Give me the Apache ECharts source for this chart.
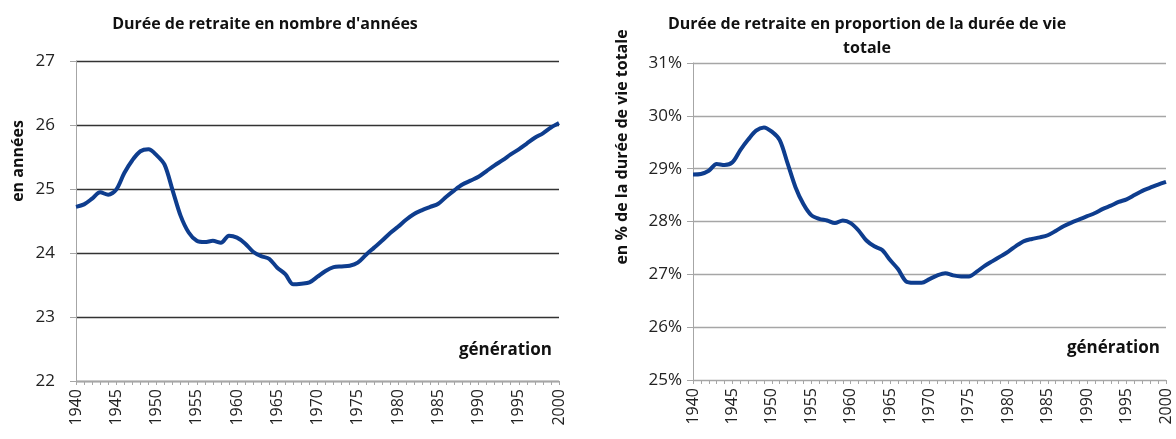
<!DOCTYPE html>
<html>
<head>
<meta charset="utf-8">
<script src="https://cdn.jsdelivr.net/npm/echarts@6/dist/echarts.min.js"></script>
<style>
  html, body { margin: 0; padding: 0; background: #fff; }
  #chart { width: 1176px; height: 439px; }
</style>
</head>
<body>
<div id="chart"></div>
<script>
// générations 1940 -> 2000
var years = [];
for (var y = 1940; y <= 2000; y++) years.push(String(y));

// durée de retraite en nombre d'années
var dureeAnnees = [
  24.72, 24.76, 24.85, 24.95, 24.91, 24.99, 25.25, 25.45, 25.59, 25.62,
  25.53, 25.38, 24.98, 24.58, 24.32, 24.19, 24.17, 24.19, 24.16, 24.27,
  24.24, 24.15, 24.02, 23.95, 23.91, 23.77, 23.67, 23.51, 23.52, 23.54,
  23.63, 23.72, 23.78, 23.79, 23.80, 23.85, 23.97, 24.08, 24.19, 24.31,
  24.41, 24.52, 24.61, 24.67, 24.72, 24.77, 24.88, 24.98, 25.07, 25.13,
  25.19, 25.28, 25.37, 25.45, 25.54, 25.62, 25.71, 25.80, 25.87, 25.96,
  26.03
];

// durée de retraite en % de la durée de vie totale
var dureePct = [
  28.89, 28.90, 28.96, 29.09, 29.07, 29.12, 29.35, 29.55, 29.72, 29.78,
  29.70, 29.54, 29.10, 28.65, 28.33, 28.12, 28.05, 28.02, 27.97, 28.02,
  27.97, 27.83, 27.64, 27.53, 27.46, 27.27, 27.10, 26.87, 26.84, 26.84,
  26.91, 26.98, 27.02, 26.98, 26.96, 26.96, 27.05, 27.16, 27.25, 27.34,
  27.43, 27.54, 27.63, 27.67, 27.70, 27.74, 27.82, 27.91, 27.98, 28.04,
  28.10, 28.16, 28.24, 28.30, 28.37, 28.42, 28.50, 28.58, 28.64, 28.70,
  28.75
];

var font = 'Open Sans';
var chart = echarts.init(document.getElementById('chart'));

function xAxisOpt(idx) {
  return {
    type: 'category',
    gridIndex: idx,
    data: years,
    boundaryGap: false,
    axisLine: { lineStyle: { color: '#a6a6a6', width: 1 } },
    axisTick: { interval: 0, length: 4, lineStyle: { color: '#a6a6a6' } },
    axisLabel: {
      interval: 4, rotate: 90, margin: 8,
      color: '#222', fontFamily: font, fontSize: 16
    },
    splitLine: { show: false }
  };
}

var option = {
  animation: false,
  title: [
    {
      text: "Durée de retraite en nombre d'années",
      left: 260, top: 11, textAlign: 'center',
      textStyle: { fontFamily: font, fontSize: 16, fontWeight: 'bold', color: '#111' }
    },
    {
      text: 'Durée de retraite en proportion de la durée de vie\ntotale',
      left: 862, top: 7, textAlign: 'center',
      textStyle: { fontFamily: font, fontSize: 16, fontWeight: 'bold', color: '#111', lineHeight: 24 }
    }
  ],
  grid: [
    { left: 76, right: 617, top: 61, bottom: 58 },
    { left: 693, right: 10, top: 63, bottom: 59 }
  ],
  xAxis: [xAxisOpt(0), xAxisOpt(1)],
  yAxis: [
    {
      type: 'value', gridIndex: 0, min: 22, max: 27, interval: 1,
      axisLine: { show: true, lineStyle: { color: '#a6a6a6' } },
      axisTick: { show: true, length: 6, lineStyle: { color: '#a6a6a6' } },
      axisLabel: { color: '#222', fontFamily: font, fontSize: 17, margin: 21 },
      splitLine: { lineStyle: { color: '#333', width: 1.3 } }
    },
    {
      type: 'value', gridIndex: 1, min: 25, max: 31, interval: 1,
      axisLine: { show: true, lineStyle: { color: '#a6a6a6' } },
      axisTick: { show: true, length: 6, lineStyle: { color: '#a6a6a6' } },
      axisLabel: { color: '#222', fontFamily: font, fontSize: 17, margin: 11, formatter: '{value}%' },
      splitLine: { lineStyle: { color: '#a6a6a6', width: 1.3 } }
    }
  ],
  graphic: [
    {
      type: 'text', x: 18, y: 161, rotation: Math.PI / 2,
      style: { text: 'en années', fontFamily: font, fontSize: 16, fontWeight: 'bold', fill: '#111', align: 'center', verticalAlign: 'middle' }
    },
    {
      type: 'text', x: 622, y: 147, rotation: Math.PI / 2,
      style: { text: 'en % de la durée de vie totale', fontFamily: font, fontSize: 16, fontWeight: 'bold', fill: '#111', align: 'center', verticalAlign: 'middle' }
    },
    {
      type: 'text', x: 552, y: 350,
      style: { text: 'génération', fontFamily: font, fontSize: 17, fontWeight: 'bold', fill: '#111', align: 'right', verticalAlign: 'middle' }
    },
    {
      type: 'text', x: 1160, y: 348,
      style: { text: 'génération', fontFamily: font, fontSize: 17, fontWeight: 'bold', fill: '#111', align: 'right', verticalAlign: 'middle' }
    }
  ],
  series: [
    {
      name: 'Durée en années', type: 'line', xAxisIndex: 0, yAxisIndex: 0,
      data: dureeAnnees, smooth: 0.3, showSymbol: false,
      lineStyle: { color: '#0e3d8e', width: 4 }
    },
    {
      name: 'Durée en %', type: 'line', xAxisIndex: 1, yAxisIndex: 1,
      data: dureePct, smooth: 0.3, showSymbol: false,
      lineStyle: { color: '#0e3d8e', width: 4 }
    }
  ]
};

chart.setOption(option);
</script>
</body>
</html>
